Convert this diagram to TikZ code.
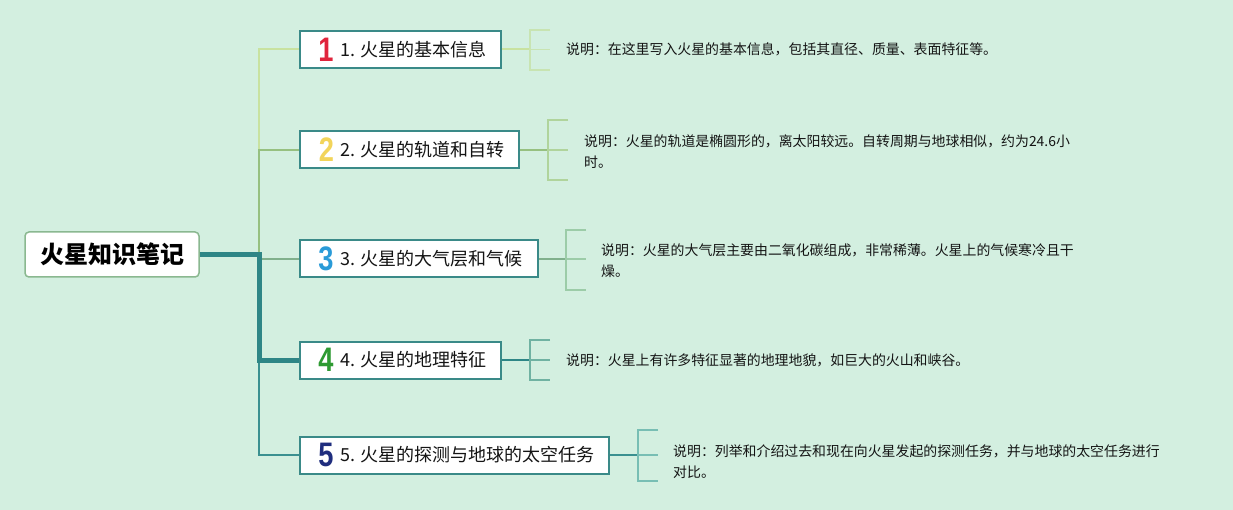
\documentclass[tikz,border=0pt]{standalone}
\usepackage{fontspec}
\usepackage{graphicx}
\usetikzlibrary{calc}
\setmainfont{Noto Sans CJK SC}
\newfontfamily\cjk{Noto Sans CJK SC}
\newfontfamily\numfont{Liberation Sans}
\definecolor{bg}{RGB}{211,239,224}
\definecolor{boxline}{RGB}{58,138,136}
\definecolor{rootline}{RGB}{138,184,144}
\definecolor{trunk}{RGB}{46,134,134}
\definecolor{trunkb}{RGB}{58,144,144}
\definecolor{c1}{RGB}{200,226,160}
\definecolor{c2}{RGB}{150,192,128}
\definecolor{c3}{RGB}{128,176,140}
\definecolor{k1}{RGB}{200,228,178}
\definecolor{k2}{RGB}{176,212,156}
\definecolor{k3}{RGB}{156,204,168}
\definecolor{k4}{RGB}{112,178,162}
\definecolor{k5}{RGB}{120,190,180}
\definecolor{n1}{RGB}{224,36,60}
\definecolor{n2}{RGB}{242,212,90}
\definecolor{n3}{RGB}{42,155,216}
\definecolor{n4}{RGB}{46,154,50}
\definecolor{n5}{RGB}{31,45,126}
\definecolor{txt}{RGB}{20,20,20}
\tikzset{
  rootbox/.style={draw=rootline, line width=1.5pt, fill=white, rounded corners=4pt, inner sep=0pt},
  branchbox/.style={draw=boxline, line width=2pt, fill=white, inner sep=0pt, minimum height=37pt, anchor=west},
  icon/.style={inner sep=0pt, font=\numfont\bfseries\fontsize{34}{34}\selectfont},
  btext/.style={inner sep=0pt, anchor=west, text=txt, font=\cjk\fontsize{18}{20}\selectfont},
  desc/.style={inner sep=0pt, anchor=west, align=left, text=txt, font=\cjk\fontsize{13.9}{21}\selectfont},
  bracket/.style={line width=1.4pt},
}
\newcommand{\ico}[2]{\scalebox{0.8}[1]{\textcolor{#1}{#2}}}
\begin{document}
\begin{tikzpicture}[x=1pt,y=-1pt]
\fill[bg] (0,0) rectangle (1233,510);
\useasboundingbox (0,0) rectangle (1233,510);

% root
\node[rootbox, minimum width=174pt, minimum height=45pt] (root) at (112,254.5)
  {\cjk\bfseries\fontsize{24}{26}\selectfont 火星知识笔记};

% branch boxes
\node[branchbox, minimum width=201pt] (b1) at (299,49.5) {};
\node[branchbox, minimum width=219pt] (b2) at (299,150) {};
\node[branchbox, minimum width=238pt] (b3) at (299,259) {};
\node[branchbox, minimum width=201pt] (b4) at (299,360) {};
\node[branchbox, minimum width=309pt] (b5) at (299,455) {};

% junction coordinates
\coordinate (j) at (259,254.5);
\coordinate (j2) at (259,150);

% connectors
\draw[c1, line width=2pt] (j2) |- (b1.west);
\draw[c2, line width=2pt] (j) -- (j2) -- (b2.west);
\draw[c3, line width=2pt] (j |- b3.west) -- (b3.west);
\draw[trunkb, line width=2.5pt] (j) |- (b5.west);
\draw[trunk, line width=5pt, line join=miter] (root.east) -- (j) |- (b4.west);

% icons and texts
\node[icon] (i1) at (326,49.5) {\ico{n1}{1}};
\node[icon] (i2) at (326.5,150) {\ico{n2}{2}};
\node[icon] (i3) at (326,259) {\ico{n3}{3}};
\node[icon] (i4) at (326,360) {\ico{n4}{4}};
\node[icon] (i5) at (326,455) {\ico{n5}{5}};
\node[btext] (t1) at (340,49.5) {1. 火星的基本信息};
\node[btext] (t2) at (340,150) {2. 火星的轨道和自转};
\node[btext] (t3) at (340,259) {3. 火星的大气层和气候};
\node[btext] (t4) at (340,360) {4. 火星的地理特征};
\node[btext] (t5) at (340,455) {5. 火星的探测与地球的太空任务};

% descriptions
\node[desc] (d1) at (566,49.5) {说明：在这里写入火星的基本信息，包括其直径、质量、表面特征等。};
\node[desc] (d2) at (584,151.5) {说明：火星的轨道是椭圆形的，离太阳较远。自转周期与地球相似，约为24.6小\\时。};
\node[desc] (d3) at (601,260.5) {说明：火星的大气层主要由二氧化碳组成，非常稀薄。火星上的气候寒冷且干\\燥。};
\node[desc] (d4) at (566,360) {说明：火星上有许多特征显著的地理地貌，如巨大的火山和峡谷。};
\node[desc] (d5) at (673,461.5) {说明：列举和介绍过去和现在向火星发起的探测任务，并与地球的太空任务进行\\对比。};

% brackets
\coordinate (m1) at (530,49.5);
\coordinate (m2) at (548,150);
\coordinate (m3) at (566,259);
\coordinate (m4) at (530,360);
\coordinate (m5) at (638,455);
\draw[c1, line width=2pt] (b1.east) -- (m1);
\draw[k1, bracket] ($(m1)+(20,-19.5)$) -- ($(m1)+(0,-19.5)$) -- ($(m1)+(0,20.5)$) -- ($(m1)+(20,20.5)$);
\draw[k1, bracket] (m1) -- ++(20,0);
\draw[c2, line width=2pt] (b2.east) -- (m2);
\draw[k2, bracket] ($(m2)+(20,-30)$) -- ($(m2)+(0,-30)$) -- ($(m2)+(0,30)$) -- ($(m2)+(20,30)$);
\draw[k2, bracket] (m2) -- ++(20,0);
\draw[c3, line width=2pt] (b3.east) -- (m3);
\draw[k3, bracket] ($(m3)+(20,-29)$) -- ($(m3)+(0,-29)$) -- ($(m3)+(0,31)$) -- ($(m3)+(20,31)$);
\draw[k3, bracket] (m3) -- ++(20,0);
\draw[trunk, line width=2pt] (b4.east) -- (m4);
\draw[k4, bracket] ($(m4)+(20,-20)$) -- ($(m4)+(0,-20)$) -- ($(m4)+(0,20)$) -- ($(m4)+(20,20)$);
\draw[k4, bracket] (m4) -- ++(20,0);
\draw[trunkb, line width=2pt] (b5.east) -- (m5);
\draw[k5, bracket] ($(m5)+(20,-25)$) -- ($(m5)+(0,-25)$) -- ($(m5)+(0,26)$) -- ($(m5)+(20,26)$);
\draw[k5, bracket] (m5) -- ++(20,0);
\end{tikzpicture}
\end{document}
